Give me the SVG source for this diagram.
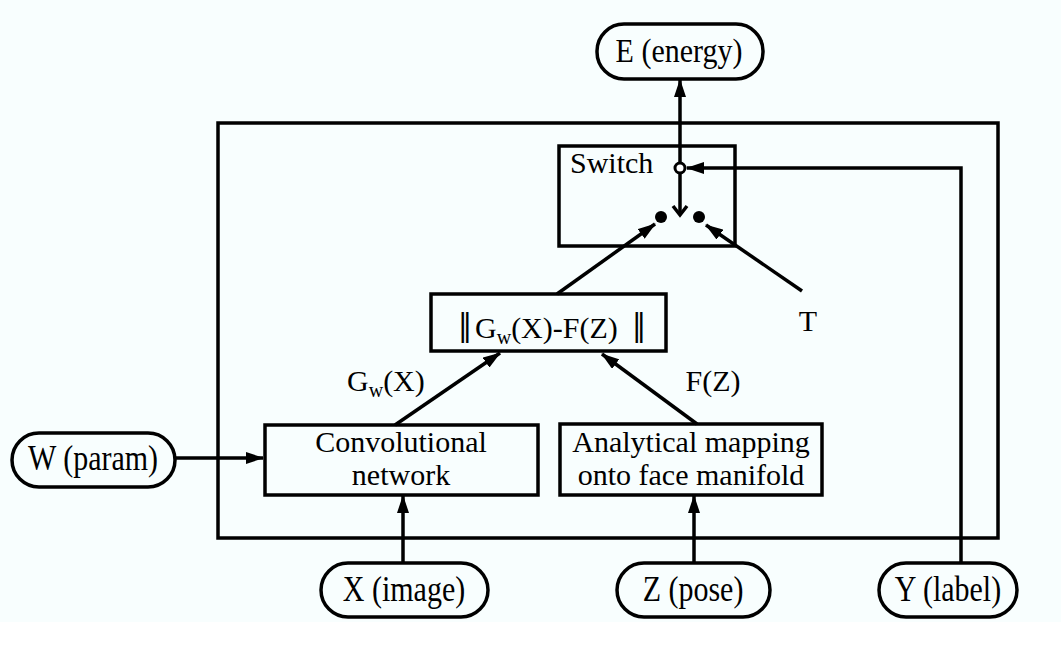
<svg xmlns="http://www.w3.org/2000/svg" width="1061" height="666" viewBox="0 0 1061 666">
<defs>
<style>
.t{font-family:"Liberation Serif","Times New Roman",serif;font-size:30px;fill:#000}
.c{text-anchor:middle}
.bar{font-family:"Liberation Serif","Times New Roman",serif;font-size:34px;font-weight:bold;letter-spacing:-3px}
.box{fill:none;stroke:#000;stroke-width:3.5}
.pill{fill:#f8fefe;stroke:#000;stroke-width:3.5}
.ln{fill:none;stroke:#000;stroke-width:3.5}
</style>
<marker id="ah" viewBox="0 0 18 12" refX="17" refY="6" markerWidth="18" markerHeight="12" markerUnits="userSpaceOnUse" orient="auto">
<path d="M0,0 L18,6 L0,12 Z" fill="#000"/>
</marker>
</defs>
<rect x="0" y="0" width="1061" height="666" fill="#ffffff"/>
<rect x="0" y="0" width="1061" height="622" fill="#f8fefe"/>

<g id="frame"><rect x="218" y="123" width="780" height="415" class="box"/></g>

<g id="connectors">
<line x1="680" y1="163" x2="680" y2="80" class="ln" marker-end="url(#ah)"/>
<polyline points="961,563 961,168 687,168" class="ln" marker-end="url(#ah)"/>
<line x1="680" y1="173" x2="680" y2="214" class="ln"/>
<polyline points="673,206 680,215 687,206" class="ln"/>
<line x1="557" y1="294" x2="655" y2="224" class="ln" marker-end="url(#ah)"/>
<line x1="802" y1="291" x2="706" y2="225" class="ln" marker-end="url(#ah)"/>
<line x1="395" y1="425" x2="500" y2="353" class="ln" marker-end="url(#ah)"/>
<line x1="697" y1="424" x2="602" y2="354" class="ln" marker-end="url(#ah)"/>
<line x1="175" y1="458" x2="263" y2="458" class="ln" marker-end="url(#ah)"/>
<line x1="403" y1="563" x2="403" y2="496" class="ln" marker-end="url(#ah)"/>
<line x1="694" y1="563" x2="694" y2="496" class="ln" marker-end="url(#ah)"/>
</g>

<g id="switch">
<rect x="559" y="146" width="176" height="100" class="box"/>
<text x="570" y="173" class="t">Switch</text>
<circle cx="680" cy="168" r="5" fill="#fff" stroke="#000" stroke-width="3"/>
<circle cx="661" cy="217" r="6" fill="#000"/>
<circle cx="699" cy="217" r="6" fill="#000"/>
</g>

<g id="energy">
<rect x="597" y="24" width="166" height="55" rx="27" class="pill"/>
<text transform="translate(679,62) scale(1,1.1)" class="t c">E (energy)</text>
</g>

<g id="norm">
<rect x="431" y="294" width="235" height="57" class="box"/>
<text y="338" class="t"><tspan class="bar" x="459" y="336">||</tspan><tspan x="475" y="338">G</tspan><tspan font-size="20" dy="6">w</tspan><tspan dy="-6">(X)-F(Z)</tspan><tspan class="bar" x="633" y="336">||</tspan></text>
</g>

<g id="T"><text x="808" y="331" class="t c">T</text></g>

<g id="gwx"><text x="347" y="391" class="t">G<tspan font-size="20" dy="6">w</tspan><tspan dy="-6">(X)</tspan></text></g>
<g id="fz"><text x="713" y="391" class="t c">F(Z)</text></g>

<g id="conv">
<rect x="265" y="425" width="273" height="70" class="box"/>
<text x="401" y="452" class="t c">Convolutional</text>
<text x="401" y="485" class="t c">network</text>
</g>

<g id="analytical">
<rect x="560" y="424" width="262" height="71" class="box"/>
<text x="691" y="452" class="t c">Analytical mapping</text>
<text x="691" y="485" class="t c">onto face manifold</text>
</g>

<g id="param">
<rect x="12" y="433" width="163" height="54" rx="27" class="pill"/>
<text transform="translate(93,470) scale(1,1.2)" class="t c">W (param)</text>
</g>

<g id="image">
<rect x="321" y="563" width="167" height="54" rx="27" class="pill"/>
<text transform="translate(404,601) scale(1,1.2)" class="t c">X (image)</text>
</g>

<g id="pose">
<rect x="617" y="563" width="153" height="54" rx="27" class="pill"/>
<text transform="translate(693,601) scale(1,1.2)" class="t c">Z (pose)</text>
</g>

<g id="label">
<rect x="879" y="563" width="138" height="54" rx="27" class="pill"/>
<text transform="translate(948,601) scale(1,1.2)" class="t c">Y (label)</text>
</g>
</svg>
